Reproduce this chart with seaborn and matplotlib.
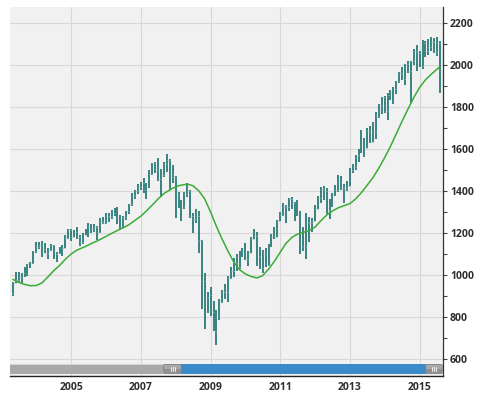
import numpy as np
import pandas as pd
import matplotlib
matplotlib.use("Agg")
import matplotlib.pyplot as plt
import matplotlib.dates as mdates
from matplotlib.patches import Rectangle, FancyBboxPatch
import seaborn as sns

# ---------------- data (monthly bars, May 2003 - Aug 2015) ----------------
first_month = "2003-05-01"

highs = [
    965, 1015, 1015, 1011, 1040, 1054, 1063, 1112,
    1155, 1159, 1163, 1150, 1128, 1146, 1141, 1109, 1131, 1142, 1188, 1217,
    1217, 1212, 1229, 1192, 1200, 1219, 1246, 1245, 1244, 1234, 1270, 1276,
    1295, 1297, 1310, 1318, 1326, 1285, 1281, 1306, 1340, 1390, 1407, 1431,
    1441, 1462, 1439, 1498, 1535, 1540, 1556, 1503, 1539, 1576, 1552, 1523,
    1471, 1396, 1359, 1397, 1440, 1404, 1293, 1313, 1303, 1167, 1008, 919,
    943, 875, 832, 888, 930, 956, 996, 1039, 1080, 1101, 1113, 1130,
    1150, 1112, 1180, 1220, 1203, 1132, 1120, 1129, 1148, 1196, 1227, 1263,
    1302, 1344, 1332, 1367, 1371, 1346, 1357, 1307, 1230, 1293, 1278, 1270,
    1333, 1378, 1420, 1422, 1416, 1364, 1392, 1427, 1475, 1470, 1434, 1448,
    1510, 1530, 1570, 1598, 1688, 1654, 1698, 1710, 1730, 1775, 1813, 1849,
    1850, 1867, 1883, 1897, 1925, 1968, 1992, 2005, 2019, 2019, 2075, 2094,
    2065, 2120, 2114, 2126, 2135, 2130, 2133, 2113,
]
lows = [
    902, 960, 962, 960, 990, 997, 1031, 1053,
    1106, 1123, 1087, 1107, 1076, 1114, 1078, 1060, 1101, 1090, 1127, 1173,
    1164, 1180, 1171, 1137, 1146, 1188, 1183, 1201, 1205, 1168, 1202, 1245,
    1245, 1253, 1268, 1280, 1245, 1219, 1225, 1261, 1290, 1327, 1360, 1385,
    1403, 1389, 1364, 1416, 1476, 1484, 1448, 1371, 1466, 1489, 1406, 1436,
    1271, 1317, 1257, 1312, 1373, 1272, 1200, 1247, 1106, 840, 741, 818,
    805, 735, 667, 784, 866, 888, 869, 979, 992, 1020, 1029, 1086,
    1071, 1045, 1105, 1170, 1041, 1028, 1010, 1040, 1041, 1131, 1173, 1181,
    1257, 1282, 1249, 1305, 1312, 1259, 1282, 1101, 1114, 1075, 1159, 1203,
    1258, 1312, 1341, 1358, 1292, 1267, 1325, 1375, 1397, 1403, 1343, 1398,
    1426, 1485, 1502, 1537, 1581, 1560, 1605, 1627, 1633, 1647, 1746, 1767,
    1770, 1738, 1834, 1814, 1860, 1915, 1930, 1904, 1964, 1821, 2001, 1973,
    1988, 1981, 2040, 2048, 2067, 2057, 2044, 1867,
]
closes = [
    964, 975, 990, 1008, 996, 1051, 1058, 1112,
    1131, 1145, 1126, 1107, 1121, 1141, 1102, 1104, 1115, 1130, 1174, 1212,
    1181, 1204, 1181, 1157, 1192, 1191, 1234, 1220, 1229, 1207, 1250, 1248,
    1280, 1281, 1295, 1311, 1270, 1270, 1277, 1304, 1336, 1378, 1401, 1418,
    1438, 1407, 1421, 1482, 1531, 1503, 1455, 1474, 1527, 1549, 1481, 1468,
    1379, 1331, 1323, 1386, 1400, 1280, 1267, 1283, 1166, 969, 896, 903,
    826, 735, 798, 873, 919, 919, 987, 1021, 1057, 1036, 1096, 1115,
    1074, 1104, 1169, 1187, 1089, 1031, 1102, 1049, 1141, 1183, 1181, 1258,
    1286, 1327, 1326, 1364, 1345, 1321, 1292, 1219, 1131, 1253, 1247, 1258,
    1312, 1366, 1408, 1398, 1310, 1362, 1379, 1407, 1441, 1412, 1416, 1426,
    1498, 1515, 1569, 1598, 1631, 1606, 1686, 1633, 1682, 1757, 1806, 1848,
    1783, 1859, 1872, 1884, 1924, 1960, 1931, 2003, 1972, 2018, 2068, 2059,
    1995, 2105, 2068, 2086, 2107, 2063, 2104, 1972,
]
opens = [916] + closes[:-1]

ma_months = [
    "2003-05", "2003-07", "2003-09", "2003-11", "2004-01", "2004-03",
    "2004-05", "2004-07", "2004-09", "2004-11", "2005-01", "2005-03",
    "2005-06", "2005-08", "2005-10", "2005-12", "2006-03", "2006-05",
    "2006-07", "2006-09", "2006-11", "2007-01", "2007-03", "2007-05",
    "2007-07", "2007-09", "2007-12", "2008-02", "2008-05", "2008-07",
    "2008-09", "2008-11", "2009-01", "2009-03", "2009-05", "2009-07",
    "2009-09", "2009-11", "2010-01", "2010-03", "2010-05", "2010-07",
    "2010-09", "2010-11", "2011-01", "2011-03", "2011-05", "2011-07",
    "2011-09", "2011-11", "2012-01", "2012-03", "2012-05", "2012-07",
    "2012-09", "2012-11", "2013-01", "2013-03", "2013-05", "2013-07",
    "2013-09", "2013-11", "2014-01", "2014-03", "2014-05", "2014-07",
    "2014-09", "2014-11", "2015-01", "2015-03", "2015-05", "2015-08",
]
ma_values = [
    979, 965, 955, 949, 950, 962,
    990, 1020, 1045, 1075, 1100, 1118,
    1136, 1150, 1162, 1176, 1198, 1212,
    1225, 1240, 1260, 1280, 1305, 1333,
    1362, 1388, 1413, 1425, 1433, 1425,
    1400, 1362, 1300, 1234, 1172, 1115,
    1062, 1025, 1005, 993, 986, 997,
    1028, 1065, 1108, 1150, 1178, 1195,
    1203, 1212, 1228, 1258, 1285, 1305,
    1320, 1330, 1340, 1362, 1392, 1428,
    1465, 1510, 1560, 1612, 1672, 1732,
    1790, 1845, 1893, 1928, 1955, 1992,
]

x_tick_years = [2005, 2007, 2009, 2011, 2013, 2015]
y_major = [600, 800, 1000, 1200, 1400, 1600, 1800, 2000, 2200]
y_minor = [700, 900, 1100, 1300, 1500, 1700, 1900, 2100]

# ---------------- styling ----------------
sns.set_style("white", {"axes.facecolor": "#f0f1f0"})
plt.rcParams["font.family"] = ["Open Sans", "DejaVu Sans"]

W, H = 482, 398
fig = plt.figure(figsize=(W / 100, H / 100), dpi=100)
fig.patch.set_facecolor("white")

ax_l, ax_r, ax_t, ax_b = 10, 443, 7, 376
ax = fig.add_axes([ax_l / W, (H - ax_b) / H, (ax_r - ax_l) / W, (ax_b - ax_t) / H])
ax.set_facecolor("#f0f1f0")

dates = pd.date_range(first_month, periods=len(closes), freq="MS")
df = pd.DataFrame({"date": dates, "open": opens, "high": highs,
                   "low": lows, "close": closes})
ma_df = pd.DataFrame({"date": pd.to_datetime(ma_months), "ma": ma_values})

bar_color = "#19706e"
tick_color = "#8fbcb9"
xd = mdates.date2num(df["date"])
half = 9  # days for open/close ticks

ax.set_axisbelow(True)
ax.grid(True, which="major", color="#d7d8d7", linewidth=0.8)

ax.vlines(xd, df["low"], df["high"], color=bar_color, linewidth=1.2, zorder=3)
ax.hlines(df["open"], xd - half, xd, color=tick_color, linewidth=0.8, zorder=3)
ax.hlines(df["close"], xd, xd + half, color=tick_color, linewidth=0.8, zorder=3)

sns.lineplot(data=ma_df, x="date", y="ma", ax=ax, color="#3cab37",
             linewidth=1.1, sort=False, estimator=None, zorder=4)

ax.set_xlim(mdates.date2num(pd.Timestamp("2003-04-01")),
            mdates.date2num(pd.Timestamp("2015-09-03")))
ax.set_ylim(519, 2276)

ax.set_xticks([mdates.date2num(pd.Timestamp(f"{y}-01-01")) for y in x_tick_years])
ax.set_xticklabels([str(y) for y in x_tick_years])
ax.set_yticks(y_major)
ax.set_yticklabels([str(v) for v in y_major])
ax.set_yticks(y_minor, minor=True)
ax.yaxis.tick_right()
ax.tick_params(axis="x", length=0, pad=4.5, labelsize=7.5, labelcolor="#2e2e2e")
ax.tick_params(axis="y", which="major", length=3, width=0.8, color="#444444",
               pad=2, labelsize=7.5, labelcolor="#2e2e2e", right=True, left=False)
ax.tick_params(axis="y", which="minor", length=3, width=0.8, color="#444444",
               right=True, left=False)
for lab in ax.get_xticklabels() + ax.get_yticklabels():
    lab.set_fontweight("bold")
ax.set_xlabel("")
ax.set_ylabel("")

for s in ["left", "top"]:
    ax.spines[s].set_visible(False)
ax.spines["right"].set_color("#333333")
ax.spines["right"].set_linewidth(0.9)
ax.spines["bottom"].set_color("#222222")
ax.spines["bottom"].set_linewidth(1.0)

# ---------------- navigator / scrollbar ----------------
sb_top, sb_bot = 364, 374
sb = fig.add_axes([ax_l / W, (H - sb_bot) / H, (ax_r - ax_l) / W, (sb_bot - sb_top) / H])
sb.set_xlim(0, ax_r - ax_l)
sb.set_ylim(0, sb_bot - sb_top)
sb.axis("off")
L = ax_r - ax_l
h1a, h1b = 162.7 - ax_l, 182.3 - ax_l
h2a, h2b = 425 - ax_l, L
sb.add_patch(Rectangle((0, 0), h1a, 10, facecolor="#a9a9a9", edgecolor="none"))
sb.add_patch(Rectangle((0, 8.6), h1a, 1.4, facecolor="#d4d4d4", edgecolor="none"))
sb.add_patch(Rectangle((h1b - 1, 0.3), h2a - h1b + 2, 9.4, facecolor="#3b8bc9", edgecolor="none"))
for a, b in [(h1a, h1b), (h2a, h2b)]:
    sb.add_patch(FancyBboxPatch((a + 0.6, 0.4), b - a - 1.2, 9.2,
                                boxstyle="round,pad=0,rounding_size=1.5",
                                facecolor="#8f8f8f", edgecolor="#7a7a7a", linewidth=0.5))
    sb.add_patch(Rectangle((a + 1, 5.5), b - a - 2, 3.8, facecolor="#a8a8a8", edgecolor="none"))
    c = (a + b) / 2
    for dx in (-2, 0, 2):
        sb.plot([c + dx, c + dx], [3, 7], color="#f2f2f2", linewidth=0.7)

fig.savefig("out.png", dpi=100, facecolor="white")
